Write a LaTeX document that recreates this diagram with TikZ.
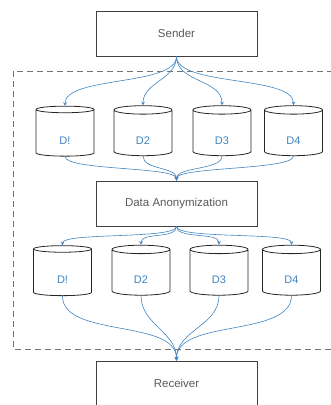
\documentclass[tikz,border=0pt]{standalone}
\usepackage{fontspec}
\setmainfont{Liberation Sans}
\usepackage{xcolor}
\usetikzlibrary{shapes.geometric}

\definecolor{flowblue}{RGB}{64,132,192}

\begin{document}
\begin{tikzpicture}[x=1pt, y=-1pt,
    stage/.style={draw=black!75, line width=0.8pt, minimum width=161pt, minimum height=45pt,
      font=\fontsize{11.5}{13}\selectfont, text=black!65},
    store/.style={cylinder, shape border rotate=90, aspect=0.6, draw=black!85, line width=0.8pt,
      minimum width=58pt, minimum height=50pt, inner sep=0pt, text height=22pt, text depth=0pt,
      font=\fontsize{11}{13}\selectfont, text=flowblue},
    flow/.style={flowblue, line width=0.6pt, ->, >=stealth}]
  \useasboundingbox (0, 0) rectangle (330, 405);

  % Anonymization area
  \draw[black!55, line width=0.9pt, dash pattern=on 6pt off 4pt] (13, 71) rectangle (340, 349);

  % Sender / Anonymizer / Receiver
  \node[stage] (snd) at (176.5, 33.5) {Sender};
  \node[stage] (anon) at (176.5, 203.5) {Data Anonymization};
  \node[stage] (rcv) at (176.5, 383.5) {Receiver};

  % Stores before anonymization
  \node[store] (a1) at (65, 133) {D!};
  \node[store] (a2) at (143, 133) {D2};
  \node[store] (a3) at (222, 133) {D3};
  \node[store] (a4) at (293.5, 133) {D4};
  % Stores after anonymization
  \node[store] (b1) at (62.5, 272.5) {D!};
  \node[store] (b2) at (141, 272.5) {D2};
  \node[store] (b3) at (219, 272.5) {D3};
  \node[store] (b4) at (291.5, 272.5) {D4};

  % Sender to stores
  \draw[flow] (snd.south) to[out=-90, in=90, max distance=30pt] (a1.north);
  \draw[flow] (snd.south) to[out=-90, in=90, max distance=30pt] (a2.north);
  \draw[flow] (snd.south) to[out=-90, in=90, max distance=30pt] (a3.north);
  \draw[flow] (snd.south) to[out=-90, in=90, max distance=30pt] (a4.north);
  % Stores to anonymizer
  \draw[flow] (a1.south) to[out=-90, in=90, max distance=14pt] (anon.north);
  \draw[flow] (a2.south) to[out=-90, in=90, max distance=14pt] (anon.north);
  \draw[flow] (a3.south) to[out=-90, in=90, max distance=14pt] (anon.north);
  \draw[flow] (a4.south) to[out=-90, in=90, max distance=14pt] (anon.north);
  % Anonymizer to stores
  \draw[flow] (anon.south) to[out=-90, in=90, max distance=13pt] (b1.north);
  \draw[flow] (anon.south) to[out=-90, in=90, max distance=13pt] (b2.north);
  \draw[flow] (anon.south) to[out=-90, in=90, max distance=13pt] (b3.north);
  \draw[flow] (anon.south) to[out=-90, in=90, max distance=13pt] (b4.north);
  % Stores to receiver
  \draw[flow] (b1.south) to[out=-90, in=90, max distance=42pt] (rcv.north);
  \draw[flow] (b2.south) to[out=-90, in=90, max distance=42pt] (rcv.north);
  \draw[flow] (b3.south) to[out=-90, in=90, max distance=42pt] (rcv.north);
  \draw[flow] (b4.south) to[out=-90, in=90, max distance=42pt] (rcv.north);
\end{tikzpicture}
\end{document}
